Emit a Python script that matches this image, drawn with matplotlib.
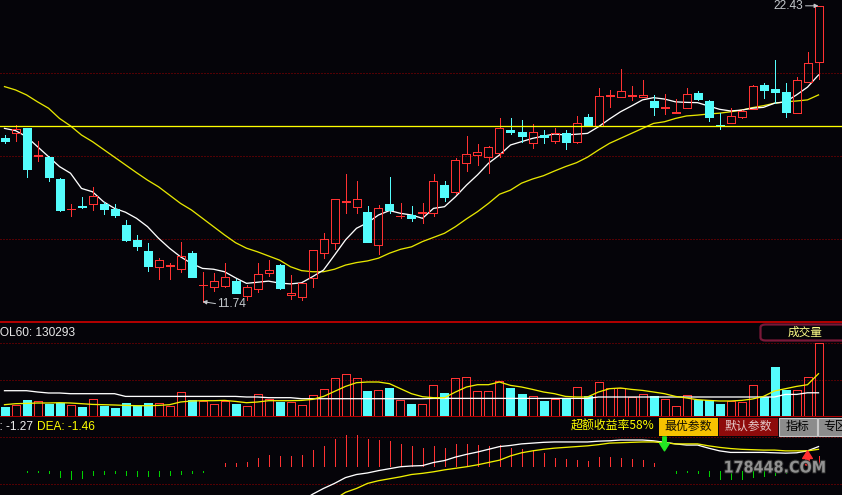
import matplotlib
matplotlib.use('Agg')
import matplotlib.pyplot as plt
from matplotlib.patches import Rectangle, FancyBboxPatch
import matplotlib.patheffects as pe

nan = float('nan')

# ---------------- data ----------------
opens = [17.66, 17.84, 18.01, 17.02, 16.97, 16.17, 15.07, 15.18, 15.26, 15.27,
         15.08, 14.51, 13.97, 13.57, 13.00, 13.03, 12.91, 13.49, 12.33, 12.26,
         12.31, 12.48, 11.94, 12.18, 12.76, 13.06, 11.98, 11.92, 12.58, 13.51,
         13.85, 15.35, 15.15, 14.98, 13.79, 15.27, 14.82, 14.86, 14.96, 14.93,
         15.95, 15.71, 16.76, 17.04, 16.98, 17.12, 17.94, 17.87, 17.46, 17.76,
         17.56, 17.82, 17.52, 18.42, 18.09, 19.17, 19.15, 19.17, 19.15, 18.99,
         18.75, 18.57, 18.73, 19.28, 18.99, 18.11, 18.18, 18.42, 18.71, 19.57,
         19.42, 19.32, 18.57, 19.67, 20.39]
closes = [17.54, 17.98, 16.54, 17.04, 16.25, 15.05, 15.10, 15.16, 15.56, 15.10,
          14.87, 13.97, 13.75, 13.04, 13.24, 13.05, 13.39, 12.64, 12.35, 12.50,
          12.62, 12.06, 12.26, 12.73, 12.88, 12.22, 12.06, 12.40, 13.60, 13.99,
          15.44, 15.38, 15.44, 13.91, 15.11, 15.05, 14.85, 14.75, 14.98, 16.09,
          15.53, 16.86, 17.07, 17.15, 17.33, 18.03, 17.88, 17.74, 17.86, 17.68,
          17.84, 17.52, 18.18, 18.09, 19.17, 19.19, 19.35, 19.19, 19.21, 18.78,
          18.77, 18.59, 19.23, 19.06, 18.42, 18.09, 18.45, 18.63, 19.53, 19.39,
          19.33, 18.60, 19.75, 20.35, 22.42]
highs = [17.76, 18.12, 18.03, 17.53, 17.00, 16.20, 15.27, 15.51, 15.87, 15.35,
         15.27, 14.69, 14.15, 13.85, 13.33, 13.12, 13.91, 13.58, 12.80, 12.76,
         13.12, 12.55, 12.34, 13.12, 13.24, 13.09, 12.70, 12.41, 13.60, 14.23,
         15.45, 16.35, 16.10, 15.20, 15.23, 16.23, 15.29, 15.20, 15.29, 16.35,
         16.10, 16.92, 17.74, 17.44, 17.35, 18.39, 18.39, 18.30, 18.16, 17.94,
         18.02, 17.94, 18.45, 18.52, 19.47, 19.39, 20.15, 19.53, 19.75, 19.21,
         19.23, 19.06, 19.45, 19.35, 19.01, 18.55, 18.73, 18.65, 19.57, 19.63,
         20.47, 19.63, 19.85, 20.75, 22.43]
lows = [17.48, 17.56, 16.25, 16.83, 16.11, 15.01, 14.84, 15.11, 15.05, 14.92,
        14.81, 13.94, 13.61, 12.86, 12.55, 12.55, 12.82, 12.62, 11.74, 12.13,
        12.26, 12.05, 11.80, 12.10, 12.67, 12.19, 11.82, 11.80, 12.28, 13.33,
        13.64, 14.93, 14.95, 13.89, 13.45, 14.95, 14.75, 14.66, 14.59, 14.83,
        15.38, 15.62, 16.47, 16.68, 16.38, 16.98, 17.79, 17.52, 17.28, 17.48,
        17.48, 17.25, 17.48, 18.07, 18.07, 18.78, 19.15, 19.03, 19.15, 18.48,
        18.52, 18.57, 18.72, 19.03, 18.28, 17.97, 18.18, 18.36, 18.70, 19.11,
        18.93, 18.42, 18.56, 19.66, 19.79]

ma_short = [18.00, 17.92, 17.70, 17.34, 16.98, 16.62, 16.38, 15.83, 15.71, 15.35,
            15.11, 14.97, 14.75, 14.45, 14.03, 13.67, 13.36, 13.12, 12.94, 12.91,
            12.82, 12.60, 12.40, 12.44, 12.48, 12.41, 12.38, 12.42, 12.64, 12.88,
            13.42, 13.97, 14.39, 14.59, 14.87, 15.03, 14.93, 14.87, 14.75, 15.11,
            15.17, 15.53, 15.95, 16.32, 16.74, 17.04, 17.40, 17.52, 17.64, 17.72,
            17.80, 17.76, 17.79, 17.82, 18.06, 18.34, 18.60, 18.81, 19.03, 19.11,
            19.06, 18.96, 18.94, 18.93, 18.81, 18.69, 18.63, 18.66, 18.73, 18.76,
            18.91, 18.96, 19.21, 19.49, 19.93]
ma_long = [19.51, 19.39, 19.21, 18.96, 18.73, 18.36, 18.09, 17.76, 17.52, 17.24,
           16.96, 16.68, 16.40, 16.13, 15.89, 15.59, 15.29, 15.05, 14.75, 14.45,
           14.15, 13.87, 13.67, 13.54, 13.39, 13.24, 13.00, 12.86, 12.82, 12.82,
           12.91, 13.06, 13.15, 13.21, 13.31, 13.49, 13.63, 13.72, 13.91, 14.06,
           14.21, 14.45, 14.73, 14.99, 15.29, 15.62, 15.77, 16.02, 16.17, 16.29,
           16.46, 16.62, 16.76, 16.96, 17.22, 17.46, 17.64, 17.82, 18.00, 18.18,
           18.24, 18.36, 18.45, 18.48, 18.52, 18.55, 18.60, 18.66, 18.75, 18.82,
           18.91, 18.96, 18.99, 19.03, 19.21]
ref_line = 18.07
grid_prices = [14.0, 17.0, 20.0]

volumes = [52900, 65400, 88800, 87200, 70900, 76300, 65400, 50700, 98100, 56100,
           45200, 72500, 56100, 72500, 76300, 60000, 136300, 88800, 83400, 70900,
           83400, 67000, 60000, 125400, 98100, 77900, 77900, 65400, 119900, 152600,
           212600, 234400, 212600, 137900, 147200, 154200, 92700, 67000, 70900, 174400,
           127000, 212600, 218000, 141700, 141700, 196200, 154200, 121500, 114500, 83400,
           98100, 103600, 163500, 114500, 190800, 158100, 158100, 105200, 125400, 114500,
           98100, 60000, 119900, 92700, 92700, 67000, 87200, 81800, 174400, 105200,
           268700, 143300, 147200, 218000, 401700]
vol_ma_short = [65400, 70900, 72500, 74700, 74700, 76300, 74700, 70900, 67000, 65400,
                63800, 61600, 60000, 60000, 61600, 65400, 80100, 85600, 87200, 87200,
                88800, 83400, 76300, 80100, 87200, 87200, 87200, 88800, 94300, 110600,
                137900, 165100, 185300, 189100, 189100, 179900, 152600, 125400, 109000, 103600,
                103600, 134600, 161900, 174400, 174400, 189100, 170600, 161900, 148800, 134600,
                125400, 110600, 107400, 107400, 134600, 152600, 156400, 148800, 143300, 134600,
                125400, 110600, 101900, 92700, 88800, 85600, 85600, 88800, 96500, 110600,
                140100, 152600, 165100, 174400, 234400]
vol_ma_long = [141700, 141700, 141700, 134600, 129200, 129200, 125400, 125400, 125400, 125400,
               125400, 110600, 110600, 110600, 110600, 110600, 110600, 110600, 110600, 110600,
               110600, 110600, 107400, 107400, 103600, 103600, 103600, 98100, 98100, 98100,
               98100, 98100, 98100, 98100, 98100, 98100, 98100, 98100, 98100, 99700,
               99700, 99700, 99700, 99700, 99700, 99700, 99700, 99700, 99700, 99700,
               99700, 99700, 99700, 99700, 107400, 107400, 107400, 107400, 107400, 107400,
               107400, 107400, 107400, 107400, 107400, 107400, 107400, 107400, 107400, 107400,
               107400, 121500, 121500, 130293, 130293]
vol_grid = [200000, 400000]

macd_hist = [-0.01, -0.01, -0.03, -0.03, -0.05, -0.17, -0.21, -0.20, -0.11, -0.09,
             -0.07, -0.11, -0.13, -0.15, -0.15, -0.11, -0.09, -0.05, -0.03, -0.01,
             0.09, 0.09, 0.11, 0.21, 0.30, 0.28, 0.28, 0.30, 0.42, 0.53,
             0.70, 0.80, 0.80, 0.70, 0.68, 0.65, 0.58, 0.53, 0.47, 0.52,
             0.47, 0.58, 0.58, 0.56, 0.52, 0.56, 0.47, 0.45, 0.41, 0.34,
             0.21, 0.19, 0.17, 0.13, 0.23, 0.23, 0.21, 0.20, 0.17, 0.09,
             -0.01, -0.05, -0.03, -0.05, -0.15, -0.21, -0.21, -0.21, -0.17, -0.13,
             -0.11, -0.06, -0.03, 0.03, 0.28]
dif = [nan] * 27 + [
    -0.85, -0.67, -0.52, -0.39, -0.24, -0.16, -0.12, -0.06, -0.01, 0.04,
    0.06, 0.07, 0.15, 0.20, 0.29, 0.36, 0.42, 0.49, 0.56, 0.59,
    0.63, 0.65, 0.67, 0.68, 0.68, 0.68, 0.68, 0.70, 0.71, 0.73,
    0.73, 0.73, 0.71, 0.67, 0.63, 0.60, 0.60, 0.52, 0.45, 0.41,
    0.41, 0.41, 0.41, 0.40, 0.39, 0.40, 0.45, 0.56]
dea = [nan] * 30 + [
    -0.80, -0.62, -0.52, -0.39, -0.32, -0.27, -0.22, -0.16, -0.13, -0.09,
    -0.04, 0.00, 0.04, 0.09, 0.15, 0.21, 0.32, 0.40, 0.45, 0.49,
    0.52, 0.54, 0.56, 0.58, 0.61, 0.65, 0.66, 0.67, 0.68, 0.68,
    0.66, 0.63, 0.63, 0.63, 0.58, 0.54, 0.51, 0.49, 0.48, 0.47,
    0.47, 0.45, 0.45, 0.45, 0.49]
macd_grid = [0.80, -0.41]
sell_signal_idx = 60
buy_signal_idx = 73

vol_title = 'VOL60: 130293'
dif_label = 'DIFF: -1.27'
dea_label = 'DEA: -1.46'
excess_label = '超额收益率58%'
buttons = ['最优参数', '默认参数', '指标', '专区']
panel_name = '成交量'
watermark = '178448.COM'

# ---------------- style ----------------
W, H = 842, 495
BG = '#050409'
RED = '#FF3232'
CYAN = '#54FCFC'
GRIDC = '#A00000'
PX = 0.72  # 1 pixel in points at dpi 100
LATIN = ['Liberation Sans', 'DejaVu Sans']
CJK = ['Noto Sans CJK SC', 'DejaVu Sans']

fig = plt.figure(figsize=(W / 100, H / 100), dpi=100)
fig.patch.set_facecolor(BG)

n = len(opens)
x = list(range(n))
XL = (-4.5 / 11, (W - 4.5) / 11)
BW = 8 / 11


def add_ax(top, bottom, ylim):
    a = fig.add_axes([0, 1 - bottom / H, 1, (bottom - top) / H])
    a.set_facecolor(BG)
    a.set_xlim(*XL)
    a.set_ylim(*ylim)
    a.axis('off')
    return a


def ftext(px, py, s, **kw):
    return fig.text(px / W, 1 - py / H, s, **kw)


def frect(x0, y0, x1, y1, **kw):
    r = Rectangle((x0 / W, 1 - y1 / H), (x1 - x0) / W, (y1 - y0) / H,
                  transform=fig.transFigure, **kw)
    fig.add_artist(r)
    return r


dots = (0, (1.0, 2.0))
CRISP = dict(antialiased=False, snap=True)

# ---------------- price panel ----------------
P_TOP, P_BOT = 0, 322
pscale = 0.03614
ax = add_ax(P_TOP, P_BOT, (22.64 - P_BOT * pscale, 22.64))
for g in grid_prices:
    ax.axhline(g, color=GRIDC, lw=PX, ls=dots, zorder=1)
ax.axhline(ref_line, color='#FFFF00', lw=1.3 * PX, zorder=6)
ax.plot(x, ma_long, color='#E6E600', lw=1.3 * PX, zorder=2)
ax.plot(x, ma_short, color='#FFFFFF', lw=1.3 * PX, zorder=2)

for i in x:
    o, c, h, l = opens[i], closes[i], highs[i], lows[i]
    up = c >= o
    top, bot = max(o, c), min(o, c)
    if up:
        ax.plot([i, i], [top, h], color=RED, lw=PX, zorder=4, solid_capstyle='butt', **CRISP)
        ax.plot([i, i], [l, bot], color=RED, lw=PX, zorder=4, solid_capstyle='butt', **CRISP)
        ax.add_patch(Rectangle((i - BW / 2, bot), BW, top - bot, fc='none',
                               ec=RED, lw=PX, zorder=5, **CRISP))
    else:
        ax.plot([i, i], [l, h], color=CYAN, lw=PX, zorder=4, solid_capstyle='butt', **CRISP)
        ax.add_patch(Rectangle((i - BW / 2, bot), BW, top - bot, fc=CYAN,
                               ec=CYAN, lw=PX, zorder=5, **CRISP))

hi_i = highs.index(max(highs))
lo_i = lows.index(min(lows))
price_high_label = f'{highs[hi_i]:.2f}'
price_low_label = f'{lows[lo_i]:.2f}'
LBL = '#C4C8CC'
ax.annotate('', xy=(hi_i, highs[hi_i]), xytext=(-13, 0), textcoords='offset pixels',
            arrowprops=dict(arrowstyle='-|>', color=LBL, lw=PX, mutation_scale=6,
                            shrinkA=0, shrinkB=0), zorder=7)
ax.annotate(price_high_label, xy=(hi_i, highs[hi_i]), xytext=(-15.5, 0),
            textcoords='offset pixels', ha='right', va='center', color=LBL,
            fontsize=8.6, family=LATIN, zorder=7)
ax.annotate('', xy=(lo_i, lows[lo_i]), xytext=(13, -2), textcoords='offset pixels',
            arrowprops=dict(arrowstyle='-|>', color=LBL, lw=PX, mutation_scale=6,
                            shrinkA=0, shrinkB=0), zorder=7)
ax.annotate(price_low_label, xy=(lo_i, lows[lo_i]), xytext=(15, -2),
            textcoords='offset pixels', ha='left', va='center', color=LBL,
            fontsize=8.6, family=LATIN, zorder=7)

# ---------------- volume panel ----------------
V_TOP, V_BOT = 322, 416.7
vscale = 5450
vax = add_ax(V_TOP, V_BOT, (0, (V_BOT - V_TOP) * vscale))
for g in vol_grid:
    vax.axhline(g, color=GRIDC, lw=PX, ls=dots, zorder=1)
for i in x:
    up = closes[i] >= opens[i]
    if up:
        vax.add_patch(Rectangle((i - BW / 2, 0), BW, volumes[i], fc='none', ec=RED,
                                lw=PX, zorder=3, **CRISP))
    else:
        vax.add_patch(Rectangle((i - BW / 2, 0), BW, volumes[i], fc=CYAN, ec=CYAN,
                                lw=PX, zorder=3, **CRISP))
vax.plot(x, vol_ma_long, color='#FFFFFF', lw=1.3 * PX, zorder=4)
vax.plot(x, vol_ma_short, color='#F0F000', lw=1.3 * PX, zorder=4)

# ---------------- MACD panel ----------------
M_TOP, M_BOT = 416.7, 495
mzero = 468.3
mscale = 38.75
max_ = add_ax(M_TOP, M_BOT, ((mzero - M_BOT) / mscale, (mzero - M_TOP) / mscale))
for g in macd_grid:
    max_.axhline(g, color=GRIDC, lw=PX, ls=dots, zorder=1)
for i in x:
    v = macd_hist[i]
    if v >= 0:
        max_.plot([i, i], [0.05, 0.05 + v], color=RED, lw=PX, zorder=3,
                  solid_capstyle='butt', **CRISP)
    else:
        max_.plot([i, i], [-0.06, -0.06 + v], color='#00D200', lw=PX, zorder=3,
                  solid_capstyle='butt', **CRISP)
max_.plot(x, dif, color='#FFFFFF', lw=1.3 * PX, zorder=4)
max_.plot(x, dea, color='#F0F000', lw=1.3 * PX, zorder=4)
max_.annotate('', xy=(sell_signal_idx, 0.45), xytext=(sell_signal_idx, 0.81),
              arrowprops=dict(arrowstyle='simple,head_width=0.7,head_length=0.55,tail_width=0.25',
                              color='#22E622', shrinkA=0, shrinkB=0, mutation_scale=10), zorder=6)
max_.annotate('', xy=(buy_signal_idx, 0.45), xytext=(buy_signal_idx, 0.085),
              arrowprops=dict(arrowstyle='simple,head_width=0.7,head_length=0.55,tail_width=0.25',
                              color='#FF3030', shrinkA=0, shrinkB=0, mutation_scale=10), zorder=6)

# ---------------- separators ----------------
frect(0, 320.5, W, 322.5, fc='#B00000', ec='none', zorder=10)
frect(0, 415.8, W, 417.3, fc='#B00000', ec='none', zorder=10)

# ---------------- texts / UI ----------------
ftext(-8.5, 332.5, vol_title, color='#E8E8E8', fontsize=8.6, family=LATIN,
      ha='left', va='center')
ftext(33, 426.5, dif_label, color='#F0F0F0', fontsize=8.6, family=LATIN,
      ha='right', va='center')
ftext(37, 426.5, dea_label, color='#FFFF00', fontsize=8.6, family=LATIN,
      ha='left', va='center')
ftext(571, 426, excess_label, color='#FFFF00', fontsize=8.6, family=CJK,
      ha='left', va='center')

# panel name box
box = FancyBboxPatch((760.5 / W, 1 - 340.5 / H), 95 / W, 16 / H,
                     boxstyle='round,pad=0,rounding_size=0.006',
                     transform=fig.transFigure, fc=BG, ec='#7A1838', lw=1.6, zorder=11)
fig.add_artist(box)
ftext(805.5, 332.5, panel_name, color='#FFFF88', fontsize=8.4, family=CJK,
      ha='center', va='center', zorder=12)

# buttons
frect(659, 417.5, 718, 435.5, fc='#F7C200', ec='none', zorder=11)
frect(718.5, 417.5, 778, 435.5, fc='#8E0B0B', ec='none', zorder=11)
frect(779, 417.5, 817, 435.5, fc='#8C8C8C', ec='#C8C8C8', lw=0.8, zorder=11)
frect(818, 417.5, 850, 435.5, fc='#8C8C8C', ec='#C8C8C8', lw=0.8, zorder=11)
ftext(688.5, 426.5, buttons[0], color='#141000', fontsize=8.6, family=CJK,
      ha='center', va='center', zorder=12)
ftext(748, 426.5, buttons[1], color='#E6C8C8', fontsize=8.6, family=CJK,
      ha='center', va='center', zorder=12)
ftext(798, 426.5, buttons[2], color='#000000', fontsize=8.6, family=CJK,
      ha='center', va='center', zorder=12)
ftext(823, 426.5, buttons[3], color='#000000', fontsize=8.6, family=CJK,
      ha='left', va='center', zorder=12)

# watermark
ftext(775, 468, watermark, color='#9A9A9A', fontsize=11.5,
      family=['DejaVu Sans', 'Liberation Sans'], fontstretch='condensed',
      fontweight='bold', ha='center', va='center', zorder=13, alpha=0.9,
      path_effects=[pe.withStroke(linewidth=1.5, foreground='#2A2A2A')])

fig.savefig('out.png', dpi=100, facecolor=BG)
